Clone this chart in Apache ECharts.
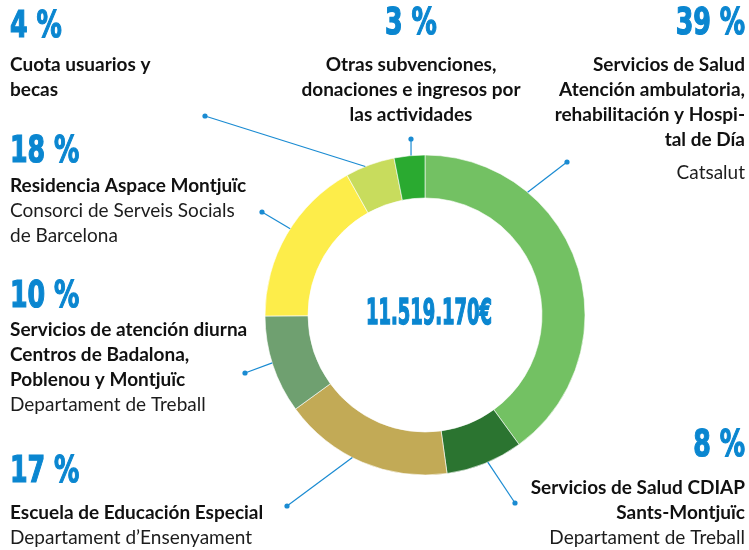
<!DOCTYPE html>
<html>
<head>
<meta charset="utf-8">
<script src="https://cdn.jsdelivr.net/npm/echarts@6/dist/echarts.min.js"></script>
<style>
html,body{margin:0;padding:0;background:#fff;}
#chart{width:749px;height:550px;}
</style>
</head>
<body>
<div id="chart"></div>
<script>
// ---- data ----
const categories = [
  'Servicios de Salud (Catsalut)',
  'Servicios de Salud CDIAP Sants-Montjuïc',
  'Escuela de Educación Especial',
  'Servicios de atención diurna',
  'Residencia Aspace Montjuïc',
  'Cuota usuarios y becas',
  'Otras subvenciones, donaciones e ingresos por las actividades'
];
// slice sizes as read from the drawn ring (share of 100)
const sliceValues = [40, 7.8, 17.2, 9.9, 17, 5, 3.1];
const percentLabels = ['39 %', '8 %', '17 %', '10 %', '18 %', '4 %', '3 %'];
const titleLines = [
  ['Servicios de Salud', 'Atención ambulatoria,', 'rehabilitación y Hospi-', 'tal de Día'],
  ['Servicios de Salud CDIAP', 'Sants-Montjuïc'],
  ['Escuela de Educación Especial'],
  ['Servicios de atención diurna', 'Centros de Badalona,', 'Poblenou y Montjuïc'],
  ['Residencia Aspace Montjuïc'],
  ['Cuota usuarios y', 'becas'],
  ['Otras subvenciones,', 'donaciones e ingresos por', 'las actividades']
];
const sourceLines = [
  ['Catsalut'],
  ['Departament de Treball'],
  ['Departament d’Ensenyament'],
  ['Departament de Treball'],
  ['Consorci de Serveis Socials', 'de Barcelona'],
  [],
  []
];
const totalLabel = '11.519.170€';

// ---- styles / layout ----
const sliceColors = ['#73c163', '#2b7430', '#c2aa56', '#6fa070', '#fded4a', '#c8dc5d', '#2aaa30'];
const BLUE = '#0a86d0';
const LINE_BLUE = '#1a8bd2';
const CENTER = [425, 315];
const RADIUS = [117, 160];
// label block anchors: x, top of text block, baseline of percentage, alignment, gap line height before source
const labelLayouts = [
  { x: 745, y: 52.5,  numBase: 37,  align: 'right',  srcLH: 41 },
  { x: 745, y: 475.5, numBase: 459, align: 'right',  srcLH: 25 },
  { x: 10,  y: 500.5, numBase: 485, align: 'left',   srcLH: 25 },
  { x: 10,  y: 317.5, numBase: 310, align: 'left',   srcLH: 25 },
  { x: 10,  y: 173.5, numBase: 165, align: 'left',   srcLH: 25 },
  { x: 10,  y: 52.5,  numBase: 40,  align: 'left',   srcLH: 25 },
  { x: 411, y: 52.5,  numBase: 37,  align: 'center', srcLH: 25 }
];
// leader lines: angle on the ring (deg clockwise from top) and the dot position
const leaders = [
  { angle: 39.9,  dot: [567, 162] },
  { angle: 156.9, dot: [515, 503] },
  { angle: 207.0, dot: [287, 506] },
  { angle: 252.6, dot: [245, 373] },
  { angle: 302.6, dot: [262, 212] },
  { angle: 338.1, dot: [205, 116] },
  { angle: 355.0, dot: [411, 139] }
];

const NUM_FONT = '"DejaVu Sans Condensed", "DejaVu Sans", sans-serif';
const TXT_FONT = 'Lato, "Noto Sans", sans-serif';
const NUM_SIZE = 37;
const NUM_SCALE = 0.76;

const rich = {};
labelLayouts.forEach((L, i) => {
  rich['b' + i] = { fontFamily: TXT_FONT, fontWeight: 'bold', fontSize: 19, color: '#111111', lineHeight: 25, align: L.align };
  rich['f' + i] = { fontFamily: TXT_FONT, fontWeight: 'normal', fontSize: 19, color: '#1c1c1c', lineHeight: L.srcLH, align: L.align };
  rich['s' + i] = { fontFamily: TXT_FONT, fontWeight: 'normal', fontSize: 19, color: '#1c1c1c', lineHeight: 25, align: L.align };
});

function labelText(i) {
  const out = [];
  titleLines[i].forEach(t => out.push('{b' + i + '|' + t + '}'));
  sourceLines[i].forEach((t, k) => out.push('{' + (k === 0 ? 'f' : 's') + i + '|' + t + '}'));
  return out.join('\n');
}

const data = categories.map((name, i) => ({
  name: name,
  value: sliceValues[i],
  itemStyle: { color: sliceColors[i] },
  label: { align: labelLayouts[i].align, verticalAlign: 'top' }
}));

const graphics = [];
leaders.forEach(ld => {
  const a = ld.angle * Math.PI / 180;
  const sx = CENTER[0] + RADIUS[1] * Math.sin(a);
  const sy = CENTER[1] - RADIUS[1] * Math.cos(a);
  graphics.push({ type: 'line', silent: true, z: 10,
    shape: { x1: sx, y1: sy, x2: ld.dot[0], y2: ld.dot[1] },
    style: { stroke: LINE_BLUE, lineWidth: 1.2 } });
  graphics.push({ type: 'circle', silent: true, z: 10,
    shape: { cx: ld.dot[0], cy: ld.dot[1], r: 2.6 },
    style: { fill: LINE_BLUE } });
});
// percentage headings (condensed)
percentLabels.forEach((t, i) => {
  const L = labelLayouts[i];
  graphics.push({
    type: 'text', silent: true, z: 10,
    x: L.x, y: L.numBase - 0.346 * NUM_SIZE, scaleX: NUM_SCALE,
    style: { text: t, fill: BLUE, stroke: BLUE, lineWidth: 1.2,
      font: 'bold ' + NUM_SIZE + 'px ' + NUM_FONT, align: L.align, verticalAlign: 'middle' }
  });
});
graphics.push({
  type: 'text', silent: true, z: 10,
  x: 429, y: 315, scaleX: 0.57,
  style: { text: totalLabel, fill: BLUE, stroke: BLUE, lineWidth: 1.4,
    font: 'bold 35px ' + NUM_FONT, align: 'center', verticalAlign: 'middle' }
});

const chart = echarts.init(document.getElementById('chart'), null, { renderer: 'canvas' });
chart.setOption({
  animation: false,
  backgroundColor: '#fff',
  graphic: graphics,
  series: [{
    type: 'pie',
    center: CENTER,
    radius: RADIUS,
    startAngle: 90,
    clockwise: true,
    avoidLabelOverlap: false,
    silent: true,
    itemStyle: { borderColor: '#fff', borderWidth: 0.6 },
    label: {
      show: true,
      position: 'outside',
      formatter: p => labelText(p.dataIndex),
      rich: rich
    },
    labelLine: { show: false },
    labelLayout: function (params) {
      const L = labelLayouts[params.dataIndex];
      return { x: L.x, y: L.y, align: L.align, verticalAlign: 'top', hideOverlap: false };
    },
    data: data
  }]
});
</script>
</body>
</html>
